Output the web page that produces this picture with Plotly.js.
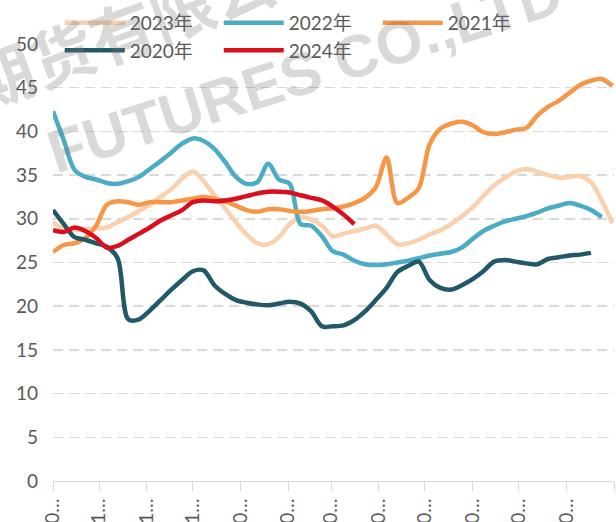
<!DOCTYPE html>
<html>
<head>
<meta charset="utf-8">
<script src="https://cdn.plot.ly/plotly-3.0.1.min.js"></script>
<style>
  html, body { margin: 0; padding: 0; background: #ffffff; }
  #chart { width: 616px; height: 522px; }
</style>
</head>
<body>
<div id="chart"></div>
<script>
// ---- categories: weekly points across a Sep-Aug season ----
const weekDates = Array.from({length: 53}, (_, i) =>
  new Date(Date.UTC(2000, 8, 1 + 7 * i)).toISOString().slice(0, 10));

// ---- month ticks and their (truncated) labels ----
const monthTicks = ["2000-09-01","2000-10-01","2000-11-01","2000-12-01","2001-01-01","2001-02-01",
                    "2001-03-01","2001-04-01","2001-05-01","2001-06-01","2001-07-01","2001-08-01","2001-09-01"];
const monthLabels = ["0…","1…","1…","1…","0…","0…","0…","0…","0…","0…","0…","0…",""];

// ---- series values ----
const y2023 = [29.6,28.8,28.7,28.8,28.9,29.0,29.6,30.2,30.9,31.6,32.5,33.4,34.6,35.4,34.3,32.7,31.2,29.6,28.2,27.2,
               27.1,27.9,29.4,30.2,29.9,29.2,28.0,28.3,28.6,28.9,29.2,28.2,27.1,27.2,27.6,28.2,28.7,29.4,30.3,31.3,
               32.6,33.8,34.7,35.4,35.7,35.4,35.0,34.7,34.8,34.9,34.2,32.1,29.5];
const y2022 = [42.3,39.0,35.6,34.8,34.5,34.1,34.0,34.3,34.8,35.7,36.6,37.6,38.6,39.2,38.9,38.0,36.5,34.8,34.0,34.2,
               36.3,34.5,34.0,29.4,29.2,28.0,26.3,25.9,25.2,24.8,24.7,24.8,25.0,25.2,25.5,25.8,26.0,26.2,26.7,27.7,
               28.6,29.2,29.7,30.0,30.3,30.7,31.2,31.5,31.8,31.5,31.0,30.2];
const y2021 = [26.2,27.0,27.2,27.8,29.2,31.6,32.0,31.9,31.6,31.9,31.9,31.9,32.1,32.3,32.5,32.3,32.0,31.5,31.0,30.8,
               31.1,31.1,30.9,30.8,30.9,31.1,31.2,31.4,31.8,32.4,33.6,37.0,31.8,32.4,33.5,38.5,40.3,40.9,41.1,40.7,
               39.9,39.7,39.9,40.2,40.4,41.8,42.8,43.5,44.4,45.3,45.8,46.0,45.2];
const y2020 = [31.0,29.4,27.9,27.6,27.2,26.8,25.5,18.5,18.5,19.5,20.7,21.9,23.0,24.0,24.1,22.4,21.4,20.7,20.4,20.2,
               20.1,20.3,20.5,20.3,19.4,17.7,17.7,17.8,18.4,19.4,20.7,22.1,23.9,24.6,25.1,23.0,22.1,21.9,22.4,23.1,
               24.0,25.1,25.3,25.1,24.9,24.8,25.4,25.6,25.8,25.9,26.1];
const y2024 = [28.7,28.5,29.0,28.6,27.8,26.7,26.9,27.6,28.3,29.0,29.8,30.4,31.0,31.9,32.1,32.0,32.1,32.3,32.6,32.9,
               33.1,33.1,33.0,32.7,32.4,32.1,31.4,30.5,29.4];

const seriesNames = ["2023年","2022年","2021年","2020年","2024年"];
const seriesValues = [y2023, y2022, y2021, y2020, y2024];
const seriesColors = ["#FAD0AE","#4BACC6","#F79646","#215968","#DA0F1E"];

const yTicks = [0,5,10,15,20,25,30,35,40,45,50];

const FONT = "Lato, 'Noto Sans CJK SC', sans-serif";

const traces = seriesNames.map((name, k) => ({
  type: "scatter",
  mode: "lines",
  name: name,
  x: weekDates.slice(0, seriesValues[k].length),
  y: seriesValues[k],
  line: {color: seriesColors[k], width: 4.5, shape: "spline", smoothing: 0.9},
  hoverinfo: "x+y+name"
}));

const layout = {
  width: 616,
  height: 522,
  margin: {l: 53, r: 2, t: 44, b: 41, autoexpand: false},
  paper_bgcolor: "#ffffff",
  plot_bgcolor: "#ffffff",
  font: {family: FONT, size: 19, color: "#595959"},
  showlegend: true,
  legend: {
    orientation: "h",
    x: 0.012, xanchor: "left",
    y: 1.092, yanchor: "top",
    bgcolor: "rgba(0,0,0,0)",
    font: {family: FONT, size: 19, color: "#595959"},
    itemwidth: 60,
    entrywidth: 84,
    entrywidthmode: "pixels",
    tracegroupgap: 0
  },
  xaxis: {
    type: "date",
    range: ["2000-09-01", "2001-09-01"],
    tickmode: "array",
    tickvals: monthTicks,
    ticktext: monthLabels,
    tickangle: -90,
    ticks: "outside",
    ticklen: 9,
    tickcolor: "#D9D9D9",
    tickwidth: 1,
    showline: true,
    linecolor: "#D9D9D9",
    linewidth: 1,
    showgrid: false,
    zeroline: false,
    tickfont: {family: FONT, size: 19, color: "#595959"},
    fixedrange: true
  },
  yaxis: {
    range: [0, 50],
    tickmode: "array",
    tickvals: yTicks,
    ticks: "",
    showline: false,
    zeroline: false,
    showgrid: true,
    gridcolor: "#D9D9D9",
    gridwidth: 1.5,
    griddash: "10px,6px",
    ticklabelstandoff: 14,
    tickfont: {family: FONT, size: 19, color: "#595959"},
    fixedrange: true
  },
  annotations: [
    {
      text: "期货有限公司",
      xref: "paper", yref: "paper",
      x: 0.1738, y: 1.0595,
      xanchor: "center", yanchor: "middle",
      textangle: -20.4,
      showarrow: false,
      font: {family: "'Noto Sans CJK SC', sans-serif", size: 64, color: "rgba(120,120,120,0.28)", weight: 700}
    },
    {
      text: "FUTURES CO.,LTD",
      xref: "paper", yref: "paper",
      x: 0.45, y: 0.935,
      xanchor: "center", yanchor: "middle",
      textangle: -17.7,
      showarrow: false,
      font: {family: "'Liberation Sans', Arial, sans-serif", size: 60, color: "rgba(120,120,120,0.28)", weight: 700}
    }
  ]
};

Plotly.newPlot("chart", traces, layout, {displayModeBar: false, staticPlot: true});
</script>
</body>
</html>
